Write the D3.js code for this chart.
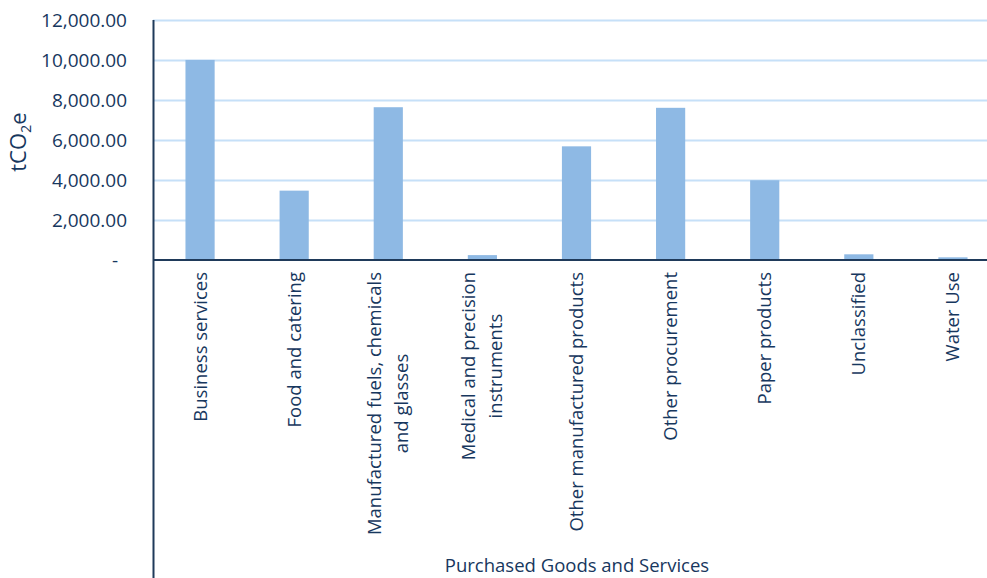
<!DOCTYPE html>
<html>
<head>
<meta charset="utf-8">
<script src="https://cdn.jsdelivr.net/npm/d3@7"></script>
<style>
  html, body { margin: 0; padding: 0; background: #fff; }
  svg { display: block; }
  text { font-family: "Open Sans", "Noto Sans", sans-serif; fill: #17375E; }
</style>
</head>
<body>
<svg id="chart" width="987" height="578"></svg>
<script>
// Purchased goods and services emissions by category (tCO2e)
const categories = [
  "Business services",
  "Food and catering",
  "Manufactured fuels, chemicals and glasses",
  "Medical and precision instruments",
  "Other manufactured products",
  "Other procurement",
  "Paper products",
  "Unclassified",
  "Water Use"
];
// wrapped category labels, one array of lines per category
const categoryLines = [
  ["Business services"],
  ["Food and catering"],
  ["Manufactured fuels, chemicals", "and glasses"],
  ["Medical and precision", "instruments"],
  ["Other manufactured products"],
  ["Other procurement"],
  ["Paper products"],
  ["Unclassified"],
  ["Water Use"]
];
const emissions = [10000, 3450, 7630, 220, 5670, 7600, 3970, 260, 110];
const yTicks = [0, 2000, 4000, 6000, 8000, 10000, 12000];

const svg = d3.select("#chart");
const plotLeft = 153, plotRight = 1000, plotTop = 20, baseline = 259.5, plotBottom = 578;

const x = d3.scaleBand()
  .domain(categories)
  .range([plotLeft, plotRight])
  .paddingInner(0.69)
  .paddingOuter(0.345);

const y = d3.scaleLinear().domain([0, 12000]).range([baseline, plotTop]);

const fmt = d3.format(",.2f");

// horizontal gridlines
svg.append("g")
  .selectAll("line")
  .data(yTicks.filter(d => d > 0))
  .join("line")
  .attr("x1", plotLeft).attr("x2", plotRight)
  .attr("y1", d => Math.round(y(d)) + 0.5)
  .attr("y2", d => Math.round(y(d)) + 0.5)
  .attr("stroke", "#C6E0F8")
  .attr("stroke-width", 2);

// bars
svg.append("g")
  .selectAll("rect")
  .data(categories)
  .join("rect")
  .attr("x", d => x(d))
  .attr("width", x.bandwidth())
  .attr("y", (d, i) => y(emissions[i]))
  .attr("height", (d, i) => baseline - y(emissions[i]))
  .attr("fill", "#8EB9E4");

// y axis labels (zero shown as a dash)
const yAxis = d3.axisLeft(y)
  .tickValues(yTicks)
  .tickSize(0)
  .tickPadding(0)
  .tickFormat(d => d === 0 ? "-" : fmt(d));
const gy = svg.append("g")
  .attr("transform", "translate(127,0)")
  .call(yAxis);
gy.select(".domain").remove();
gy.selectAll("text")
  .attr("font-size", 19)
  .attr("font-family", "Open Sans, sans-serif")
  .attr("fill", "#17375E")
  .attr("dy", "0.35em");
gy.selectAll(".tick").filter(d => d === 0).select("text").attr("dx", -9);

// axis lines
svg.append("line")
  .attr("x1", plotLeft).attr("x2", plotRight)
  .attr("y1", baseline + 0.5).attr("y2", baseline + 0.5)
  .attr("stroke", "#1F3A5A").attr("stroke-width", 2);
svg.append("line")
  .attr("x1", plotLeft + 0.5).attr("x2", plotLeft + 0.5)
  .attr("y1", plotTop).attr("y2", plotBottom)
  .attr("stroke", "#1F3A5A").attr("stroke-width", 2);

// rotated category labels
const lineGap = 27;
const lab = svg.append("g")
  .selectAll("text")
  .data(categories)
  .join("text")
  .attr("text-anchor", "middle")
  .attr("font-size", 18.5)
  .attr("transform", d => {
    const cx = x(d) + x.bandwidth() / 2;
    return `translate(${cx},0) rotate(-90)`;
  });
lab.each(function(d, i) {
  const lines = categoryLines[i];
  const t = d3.select(this);
  const n = lines.length;
  lines.forEach((ln, k) => {
    t.append("tspan")
      .attr("x", 0)
      .attr("y", (k - (n - 1) / 2) * lineGap + 6.5)
      .text(ln);
  });
  // the longest line ends just below the axis; shorter lines stay centred on it
  const w = d3.max(t.selectAll("tspan").nodes(), nd => nd.getComputedTextLength());
  t.selectAll("tspan").attr("x", -(272 + w / 2));
});

// axis titles
svg.append("text")
  .attr("x", 577).attr("y", 572)
  .attr("text-anchor", "middle")
  .attr("font-size", 18.5)
  .text("Purchased Goods and Services");

const yt = svg.append("text")
  .attr("transform", "translate(26,142) rotate(-90)")
  .attr("text-anchor", "middle")
  .attr("font-size", 22);
yt.append("tspan").text("tCO");
yt.append("tspan").attr("font-size", 14.5).attr("dy", 5).text("2");
yt.append("tspan").attr("dy", -5).text("e");
</script>
</body>
</html>
